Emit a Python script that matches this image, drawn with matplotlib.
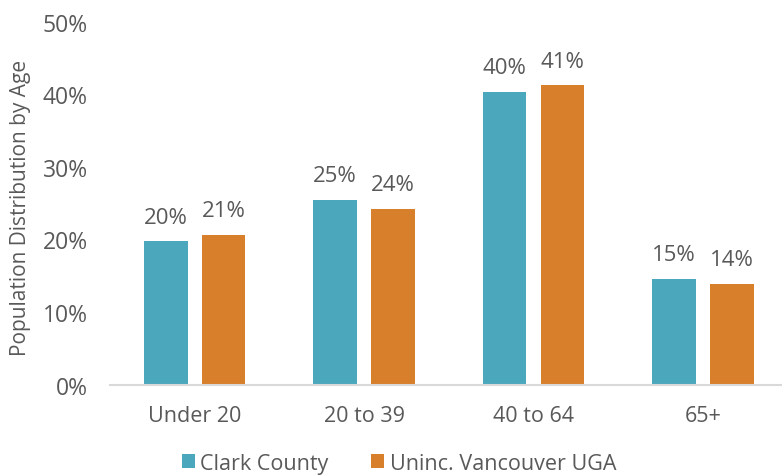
import matplotlib.pyplot as plt
import numpy as np
from matplotlib.ticker import PercentFormatter

plt.rcParams['font.family'] = ['Open Sans', 'DejaVu Sans']

# data
categories = ['Under 20', '20 to 39', '40 to 64', '65+']
clark = [19.7, 25.4, 40.3, 14.6]
uninc = [20.6, 24.2, 41.2, 13.9]
series_names = ['Clark County', 'Uninc. Vancouver UGA']
colors = ['#4BA7BC', '#D77F2B']
grey = '#595959'

fig = plt.figure(figsize=(7.82, 4.77), dpi=100)
ax = fig.add_axes([0.1407, 0.1918, 0.8667, 0.761])

x = np.arange(len(categories))
width = 0.257
off = 0.171

for vals, name, c, o in [(clark, series_names[0], colors[0], -off),
                         (uninc, series_names[1], colors[1], off)]:
    bars = ax.bar(x + o, vals, width, color=c, label=name)
    for b, v in zip(bars, vals):
        ax.annotate(f'{v:.0f}%', (b.get_x() + b.get_width() / 2, v),
                    xytext=(0, 10), textcoords='offset points',
                    ha='center', va='bottom', fontsize=16, color=grey)

ax.set_xlim(-0.5, 3.5)
ax.set_ylim(0, 50)
ax.set_yticks(np.arange(0, 51, 10))
ax.yaxis.set_major_formatter(PercentFormatter(decimals=0))
ax.set_xticks(x)
ax.set_xticklabels(categories)
ax.tick_params(axis='both', length=0, labelcolor=grey)
ax.tick_params(axis='y', pad=16, labelsize=16.5)
ax.tick_params(axis='x', pad=15, labelsize=15.5)

for s in ['top', 'right', 'left']:
    ax.spines[s].set_visible(False)
ax.spines['bottom'].set_color('#d9d9d9')
ax.spines['bottom'].set_linewidth(1.5)

fig.text(0.026, 0.565, 'Population Distribution by Age', rotation=90,
         ha='center', va='center', fontsize=15, color=grey)

fig.legend(loc='center', bbox_to_anchor=(0.51, 0.027), ncol=2, frameon=False,
           fontsize=15.5, labelcolor=grey, handlelength=0.6, handleheight=0.6,
           handletextpad=0.25, columnspacing=2.0)

plt.savefig('out.png', dpi=100)
